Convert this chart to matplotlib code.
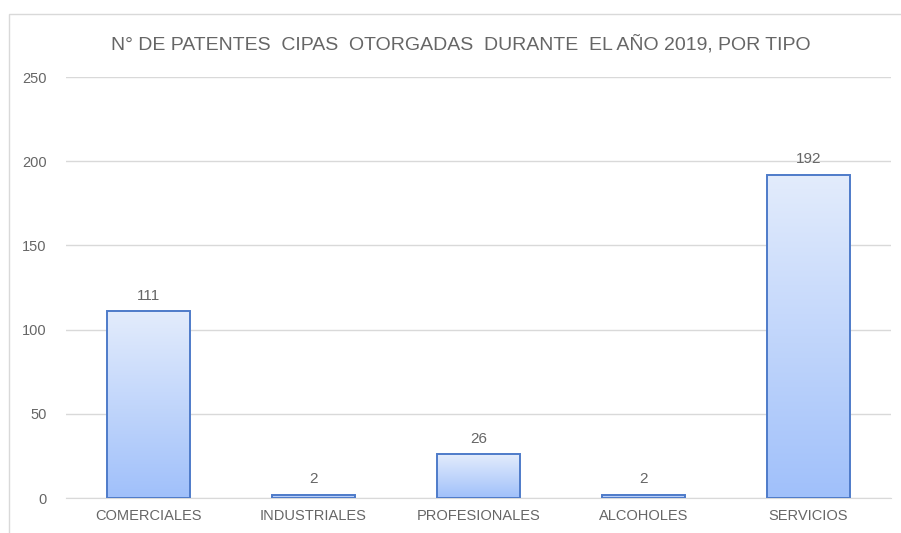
import numpy as np
import matplotlib.pyplot as plt
from matplotlib.patches import Rectangle
from matplotlib.colors import LinearSegmentedColormap

### data
tipos = ['COMERCIALES', 'INDUSTRIALES', 'PROFESIONALES', 'ALCOHOLES', 'SERVICIOS']
patentes = [111, 2, 26, 2, 192]
yticks = [0, 50, 100, 150, 200, 250]
titulo = 'N° DE PATENTES  CIPAS  OTORGADAS  DURANTE  EL AÑO 2019, POR TIPO'

gris = '#666666'
plt.rcParams['font.family'] = ['Liberation Sans', 'DejaVu Sans']

fig = plt.figure(figsize=(9.01, 5.33), dpi=100)
fig.patch.set_facecolor('white')

### light frame of the chart area
fig.add_artist(Rectangle((9 / 901, -0.1), 1.0, 1 - 14 / 533 + 0.1,
                         transform=fig.transFigure, fill=False,
                         edgecolor='#D9D9D9', lw=1.0))

ax = fig.add_axes([66 / 901, 1 - 498 / 533, (891 - 66) / 901, (498 - 77) / 533])
x = np.arange(len(tipos))
bars = ax.bar(x, patentes, width=0.5, facecolor='none', edgecolor='#4E7BC9',
              linewidth=1.4, zorder=3)

### gradient fill, light at the top, blue at the bottom of each bar
cmap = LinearSegmentedColormap.from_list('grad', ['#A0C0FA', '#E3ECFC'])
grad = np.linspace(0, 1, 256).reshape(-1, 1)
for b in bars:
    x0, y0 = b.get_x(), b.get_y()
    w, h = b.get_width(), b.get_height()
    im = ax.imshow(grad, cmap=cmap, origin='lower', aspect='auto',
                   extent=[x0, x0 + w, y0, y0 + h], zorder=2)
    im.set_clip_path(b)

for xi, v in zip(x, patentes):
    ax.text(xi, v + 5, str(v), ha='center', va='bottom', color=gris, fontsize=11)

ax.set_xlim(-0.5, len(tipos) - 0.5)
ax.set_ylim(0, 250)
ax.set_yticks(yticks)
ax.set_xticks(x)
ax.set_xticklabels(tipos)
ax.tick_params(axis='both', length=0, colors=gris, labelsize=10.5)
ax.tick_params(axis='y', pad=14)
ax.tick_params(axis='x', pad=8)
ax.grid(axis='y', color='#D9D9D9', linewidth=1.0, zorder=0)
for s in ['top', 'right', 'left']:
    ax.spines[s].set_visible(False)
ax.spines['bottom'].set_color('#D9D9D9')
ax.set_axisbelow(True)

fig.text(461 / 901, 1 - 44 / 533, titulo, ha='center', va='center',
         color=gris, fontsize=14)

fig.savefig('out.png', dpi=100)
